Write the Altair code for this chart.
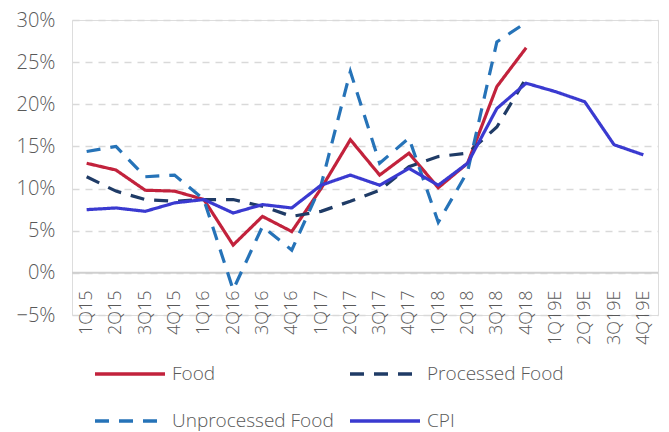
import altair as alt
import pandas as pd

quarters = ["1Q15", "2Q15", "3Q15", "4Q15", "1Q16", "2Q16", "3Q16", "4Q16",
            "1Q17", "2Q17", "3Q17", "4Q17", "1Q18", "2Q18", "3Q18", "4Q18",
            "1Q19E", "2Q19E", "3Q19E", "4Q19E"]

food = [13.0, 12.2, 9.8, 9.7, 8.7, 3.3, 6.7, 4.9,
        10.0, 15.8, 11.6, 14.2, 10.1, 13.0, 22.1, 26.7,
        None, None, None, None]
processed = [11.4, 9.7, 8.7, 8.5, 8.7, 8.7, 7.9, 6.7,
             7.3, 8.5, 9.8, 12.6, 13.8, 14.2, 17.3, 23.1,
             None, None, None, None]
unprocessed = [14.4, 15.0, 11.4, 11.6, 8.7, -2.0, 5.5, 2.7,
               10.4, 23.9, 13.0, 16.0, 6.0, 12.0, 27.4, 29.7,
               None, None, None, None]
cpi = [7.5, 7.7, 7.3, 8.3, 8.7, 7.1, 8.1, 7.7,
       10.4, 11.6, 10.4, 12.4, 10.4, 13.0, 19.5, 22.5,
       21.5, 20.3, 15.2, 14.0]

series_names = ["Food", "Processed Food", "Unprocessed Food", "CPI"]
series_values = [food, processed, unprocessed, cpi]
series_colors = ["#C2223C", "#1F3B66", "#2673B8", "#3A3AD0"]
series_dash = [[1, 0], [14, 10], [14, 10], [1, 0]]
y_ticks = [-5, 0, 5, 10, 15, 20, 25, 30]

rows = []
for name, vals in zip(series_names, series_values):
    for i, (q, v) in enumerate(zip(quarters, vals)):
        if v is not None:
            rows.append({"Quarter": q, "idx": i, "Series": name,
                         "Value": v / 100.0})
df = pd.DataFrame(rows)

FONT = "Open Sans"
GRAY = "#595959"

x_enc = alt.X("Quarter:N", sort=quarters,
              scale=alt.Scale(type="point", padding=0.5),
              axis=alt.Axis(title=None, labelAngle=-90, labelFontSize=18,
                            labelFont=FONT, labelColor=GRAY, domain=False,
                            ticks=False, grid=False, offset=-42,
                            labelPadding=17, labelFontWeight=300))
y_enc = alt.Y("Value:Q",
              scale=alt.Scale(domain=[-0.05, 0.30], nice=False, zero=False),
              axis=alt.Axis(title=None, format=".0%",
                            values=[t / 100 for t in y_ticks],
                            labelFontSize=20, labelFont=FONT, labelColor=GRAY,
                            labelFontWeight=300, labelPadding=17,
                            domain=False, ticks=False, grid=True,
                            gridDash=[7, 6], gridColor="#D9D9D9",
                            gridWidth=1.5))

legend_props = dict(
    title=None, orient="none", legendX=21, legendY=317, columns=2,
    direction="horizontal", symbolType="stroke", symbolSize=4900,
    symbolStrokeWidth=3.5, labelFont=FONT, labelFontSize=19,
    labelFontWeight=300, labelColor=GRAY, columnPadding=9, rowPadding=-29,
    labelOffset=5, labelLimit=400)

lines = alt.Chart(df).mark_line(strokeWidth=3.2).encode(
    x=x_enc,
    y=y_enc,
    color=alt.Color("Series:N",
                    scale=alt.Scale(domain=series_names, range=series_colors),
                    legend=alt.Legend(**legend_props)),
    strokeDash=alt.StrokeDash("Series:N",
                              scale=alt.Scale(domain=series_names,
                                              range=series_dash),
                              legend=alt.Legend(**legend_props)),
    order=alt.Order("idx:Q"),
)

zero = alt.Chart(pd.DataFrame({"z": [0.0]})).mark_rule(
    color="#CFCFCF", strokeWidth=2).encode(y=alt.Y("z:Q"))

chart = alt.layer(zero, lines).properties(
    width=586, height=295,
    padding={"left": 72, "top": 20, "right": 11, "bottom": 117},
    autosize=alt.AutoSizeParams(type="none"),
).configure_view(stroke=None).configure(background="white")

chart.save("out.html", embed_options={"renderer": "svg", "actions": False})
